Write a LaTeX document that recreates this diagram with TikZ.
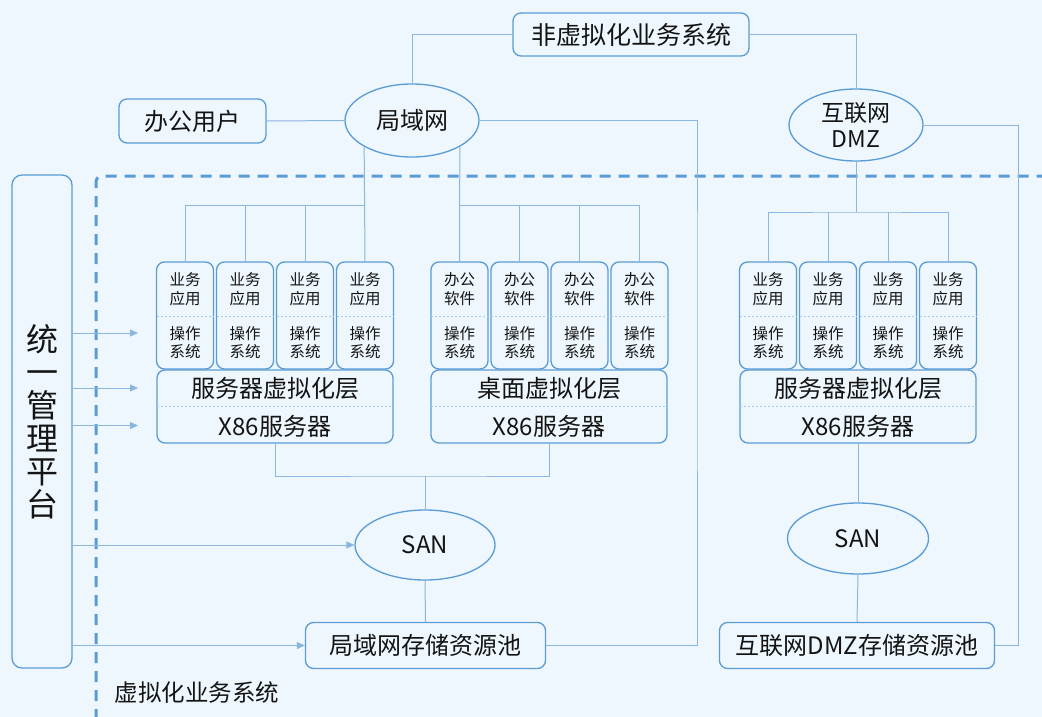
\documentclass[tikz,border=0pt]{standalone}
\usepackage{fontspec}
\setmainfont{Noto Sans CJK SC}
\usetikzlibrary{shapes.geometric,arrows.meta}
\definecolor{bg}{HTML}{EEF7FD}
\definecolor{bd}{HTML}{5B9BD5}
\definecolor{cn}{HTML}{8AB6E0}
\definecolor{sep}{HTML}{A9CBEA}
\definecolor{tx}{HTML}{141414}
\begin{document}
\begin{tikzpicture}[x=1pt,y=-1pt,
  every node/.style={text=tx},
  box/.style={draw=bd, line width=1.3pt, rounded corners=8pt, inner sep=0pt},
  ell/.style={ellipse, draw=bd, line width=1.3pt, inner sep=0pt},
  conn/.style={draw=cn, line width=1pt},
  arr/.style={conn, -{Triangle[length=8pt,width=7pt]}},
  big/.style={font=\fontsize{24}{28}\selectfont},
  sm/.style={font=\fontsize{15.5}{18.5}\selectfont, align=center},
  sepl/.style={draw=sep, line width=0.8pt, dash pattern=on 2pt off 2pt},
  frame/.style={draw=bd, line width=3pt, dash pattern=on 11pt off 8pt, rounded corners=6pt}]
\fill[bg] (0,0) rectangle (1042,717);
\useasboundingbox (0,0) rectangle (1042,717);

% dashed frame of the virtualised system
\draw[frame] (96,720) |- (1045,176);
\node[font=\fontsize{23.5}{27}\selectfont, anchor=west] (vlabel) at (111,693) {虚拟化业务系统};

% top nodes
\node[box, minimum width=236pt, minimum height=43pt, font=\fontsize{25}{29}\selectfont] (nv) at (631,34.5) {非虚拟化业务系统};
\node[box, minimum width=147pt, minimum height=44pt, big] (user) at (192.5,121) {办公用户};
\node[ell, minimum width=134pt, minimum height=73pt, big] (lan) at (412,120.5) {局域网};
\node[ell, minimum width=134pt, minimum height=72pt, font=\fontsize{23}{26}\selectfont, align=center] (dmz) at (856,125) {互联网\\DMZ};

% management platform
\node[box, rounded corners=10pt, minimum width=60pt, minimum height=493pt, font=\fontsize{32}{33}\selectfont, align=center] (mgmt) at (42,421.5) {统\\一\\管\\理\\平\\台};

% VMs group 1
\foreach \i/\x in {1/185,2/245,3/305,4/365}{
  \node[box, minimum width=57pt, minimum height=107pt] (va\i) at (\x,315.5) {};
  \draw[sepl] ([xshift=1pt]va\i.west |- 0,316) -- ([xshift=-1pt]va\i.east |- 0,316);
  \node[sm] (vat\i) at (\x,289) {业务\\应用};
  \node[sm] (vab\i) at (\x,342.5) {操作\\系统};
}
% VMs group 2
\foreach \i/\x in {1/459.5,2/519.5,3/579.5,4/639.5}{
  \node[box, minimum width=57pt, minimum height=107pt] (vb\i) at (\x,315.5) {};
  \draw[sepl] ([xshift=1pt]vb\i.west |- 0,316) -- ([xshift=-1pt]vb\i.east |- 0,316);
  \node[sm] (vbt\i) at (\x,289) {办公\\软件};
  \node[sm] (vbb\i) at (\x,342.5) {操作\\系统};
}
% VMs group 3
\foreach \i/\x in {1/768,2/828,3/888,4/948}{
  \node[box, minimum width=57pt, minimum height=107pt] (vc\i) at (\x,315.5) {};
  \draw[sepl] ([xshift=1pt]vc\i.west |- 0,316) -- ([xshift=-1pt]vc\i.east |- 0,316);
  \node[sm] (vct\i) at (\x,289) {业务\\应用};
  \node[sm] (vcb\i) at (\x,342.5) {操作\\系统};
}

% layer boxes
\foreach \n/\x/\t in {l1/275/服务器虚拟化层, l2/549/桌面虚拟化层, l3/858/服务器虚拟化层}{
  \node[box, minimum width=236pt, minimum height=73pt] (\n) at (\x,406.5) {};
  \draw[sepl] ([xshift=1pt]\n.west |- 0,406) -- ([xshift=-1pt]\n.east |- 0,406);
  \node[big] (\n a) at (\x,388) {\t};
  \node[big] (\n b) at (\x,426) {X86服务器};
}

% storage
\node[ell, minimum width=140pt, minimum height=70pt, big] (san1) at (425,545) {SAN};
\node[box, minimum width=240pt, minimum height=46pt, font=\fontsize{24}{28}\selectfont] (pool1) at (425.5,645.5) {局域网存储资源池};
\node[ell, minimum width=141pt, minimum height=71pt, big] (san2) at (858,538.5) {SAN};
\node[box, minimum width=275pt, minimum height=46pt, font=\fontsize{24}{28}\selectfont] (pool2) at (857,645.5) {互联网DMZ存储资源池};

% coordinates
\coordinate (b1) at (365,205);
\coordinate (b2) at (459.5,205);
\coordinate (b3) at (856,212);
\coordinate (m1) at (425,476);
\coordinate (c1) at (697,300);
\coordinate (c2) at (1018,300);
\coordinate (a1) at (138,333);
\coordinate (a2) at (138,388);
\coordinate (a3) at (138,425.5);

% connectors
\draw[conn] (user.east) -- (lan.west);
\draw[conn] (lan.north) |- (nv.west);
\draw[conn] (nv.east) -| (dmz.north);
\draw[conn] (lan.east) -| (c1) |- (pool1.east);
\draw[conn] (dmz.east) -| (c2) |- (pool2.east);

\draw[conn] (lan.south west) -- (va4.north);
\draw[conn] (va1.north) |- (b1);
\draw[conn] (va2.north) -- (va2.north |- b1);
\draw[conn] (va3.north) -- (va3.north |- b1);

\draw[conn] (lan.south east) -- (vb1.north);
\draw[conn] (vb4.north) |- (b2);
\draw[conn] (vb2.north) -- (vb2.north |- b2);
\draw[conn] (vb3.north) -- (vb3.north |- b2);

\draw[conn] (dmz.south) -- (b3);
\draw[conn] (vc1.north) |- (b3) -| (vc4.north);
\draw[conn] (vc2.north) -- (vc2.north |- b3);
\draw[conn] (vc3.north) -- (vc3.north |- b3);

\draw[conn] (l1.south) |- (m1) -| (l2.south);
\draw[conn] (m1) -- (san1.north);
\draw[conn] (san1.south) -- (pool1.north);
\draw[conn] (l3.south) -- (san2.north);
\draw[conn] (san2.south) -- (pool2.north);

% management arrows
\draw[arr] (mgmt.east |- a1) -- (a1);
\draw[arr] (mgmt.east |- a2) -- (a2);
\draw[arr] (mgmt.east |- a3) -- (a3);
\draw[arr] (mgmt.east |- san1) -- (san1.west);
\draw[arr] (mgmt.east |- pool1) -- (pool1.west);
\end{tikzpicture}
\end{document}
